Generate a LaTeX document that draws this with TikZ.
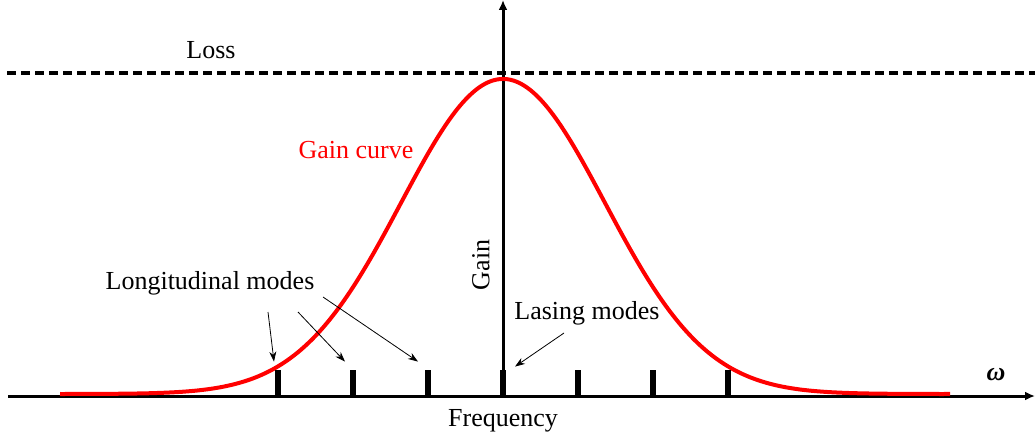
\documentclass[tikz,border=0pt]{standalone}
\usepackage{fontspec}
\setmainfont{Liberation Serif}
\usetikzlibrary{arrows.meta,calc}

\begin{document}
\begin{tikzpicture}[>=Latex, x=1pt, y=1pt,
    every node/.style={font=\fontsize{26}{30}\selectfont},
    axis/.style={line width=3pt, -{Latex[length=10pt,width=9pt]}},
    pointer/.style={line width=0.8pt, -{Stealth[length=10pt,width=7pt]}},
    modebar/.style={fill=black, inner sep=0pt, minimum width=6pt, minimum height=27pt, anchor=south}]
  \useasboundingbox (0,0) rectangle (1035,440);
  % axes
  \coordinate (xstart) at (8,44);
  \coordinate (xend) at (1035,44);
  \coordinate (ystart) at (503,44);
  \coordinate (yend) at (503,440);
  \draw[axis] (xstart) -- (xend);
  \draw[axis] (ystart) -- (yend);
  % loss level
  \coordinate (lossl) at (7,367);
  \coordinate (lossr) at (1035,367);
  \draw[line width=3.5pt, dash pattern=on 9pt off 5pt] (lossl) -- (lossr);
  % gain profile
  \draw[red, line width=4pt] plot[domain=60:950, samples=160, smooth]
    (\x, {46+315*exp(-0.5*((\x-503)/102)^2)});
  % cavity modes
  \foreach \i in {1,...,7}
    \node[modebar] (m\i) at ({278+75*(\i-1)}, 43) {};
  % labels
  \node (loss) at (211,390) {Loss};
  \node[red] (gainlbl) at (356,290) {Gain curve};
  \node[rotate=90] (gainax) at (481,175) {Gain};
  \node (longlbl) at (210,157) {Longitudinal modes};
  \node (lasinglbl) at (587,127) {Lasing modes};
  \node (freq) at (503,19) {Frequency};
  \node (omega) at (996,65) {\bfseries\itshape ω};
  % pointers
  \draw[pointer] ($(longlbl.center)+(58,-29)$) -- ($(m1.north)+(-4,8)$);
  \draw[pointer] ($(longlbl.center)+(88,-29)$) -- ($(m2.north)+(-8,8)$);
  \draw[pointer] ($(longlbl.center)+(113,-14)$) -- ($(m3.north)+(-10,8)$);
  \draw[pointer] ($(lasinglbl.center)+(-23,-20)$) -- ($(m4.north)+(12,3)$);
\end{tikzpicture}
\end{document}
